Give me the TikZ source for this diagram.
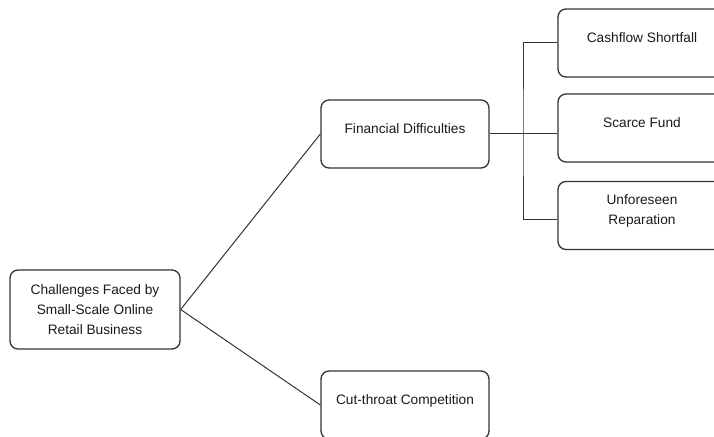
\documentclass[tikz,border=0pt]{standalone}
\usepackage{fontspec}
\setmainfont{Liberation Sans}
\usetikzlibrary{positioning}
\definecolor{chLine}{HTML}{333333}
\definecolor{chText}{HTML}{1A1A1A}
\tikzset{
  ch-box/.style={
    draw=chLine, line width=1.3pt, rounded corners=8pt,
    fill=white, font=\fontsize{13.7}{20}\selectfont, text=chText,
    align=center, inner sep=2pt,
    minimum width=168pt, minimum height=68pt
  },
  ch-up/.style={text depth=11pt},
  ch-link/.style={draw=chLine, line width=1pt}
}

\begin{document}
\begin{tikzpicture}[x=1pt,y=1pt]
\clip (0,0) rectangle (714,436);
% Root
\node[ch-box, minimum width=170pt, minimum height=79pt] (root) at (95,126.5)
  {Challenges Faced by\\Small-Scale Online\\Retail Business};

% Level 1
\node[ch-box, ch-up] (fin) at (405,302) {Financial Difficulties};
\node[ch-box, ch-up] (cut) at (405,31) {Cut-throat Competition};

% Level 2
\node[ch-box, ch-up] (cash) at (642,393) {Cashflow Shortfall};
\node[ch-box, ch-up] (fund) at (642,308) {Scarce Fund};
\node[ch-box, ch-up] (repair) at (642,220.5) {Unforeseen\\Reparation};
\coordinate (trunk) at (523,302);

\draw[ch-link] (root.east) -- (fin.west);
\draw[ch-link] (root.east) -- (cut.west);
\draw[ch-link] (fin.east) -- (fin.east -| fund.west);
\draw[ch-link] (cash.west) -| (trunk) |- ([yshift=-4pt]repair.west);
\end{tikzpicture}
\end{document}
